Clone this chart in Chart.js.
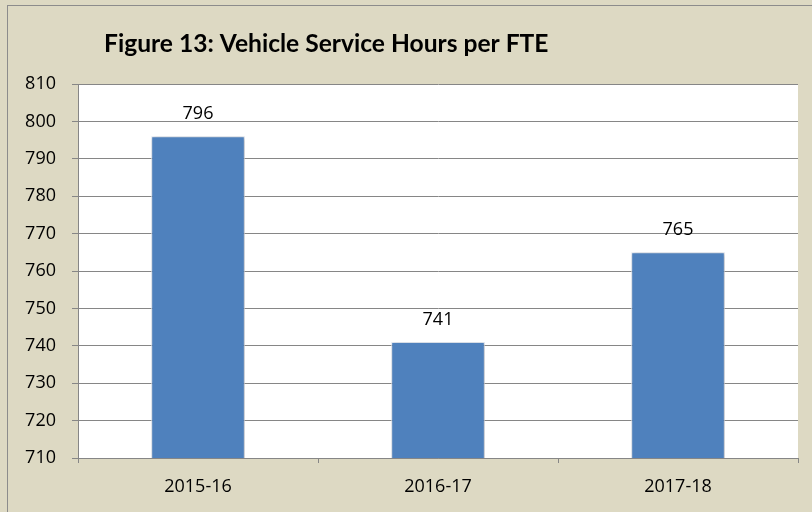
<!DOCTYPE html>
<html>
<head>
<meta charset="utf-8">
<script src="https://cdn.jsdelivr.net/npm/chart.js@4.4.1/dist/chart.umd.min.js"></script>
<style>
  html, body { margin: 0; padding: 0; background: #ddd9c3; }
  #wrap { width: 812px; height: 512px; }
</style>
</head>
<body>
<div id="wrap"><canvas id="hoursChart" width="812" height="512"></canvas></div>
<script>
const years = ['2015-16', '2016-17', '2017-18'];
const hoursPerFte = [796, 741, 765];
const yMin = 710;
const yMax = 810;
const yStep = 10;

const chartTitle = 'Figure 13: Vehicle Service Hours per FTE';
const fontFamily = "'Open Sans', Lato, sans-serif";
const titleFont = "Lato, 'Open Sans', sans-serif";

// beige frame, white plot area, title
const framePlugin = {
    id: 'frame',
    beforeDraw(chart) {
        const { ctx, chartArea } = chart;
        ctx.save();
        ctx.fillStyle = '#ddd9c3';
        ctx.fillRect(0, 0, chart.width, chart.height);
        ctx.strokeStyle = '#8c8c8c';
        ctx.lineWidth = 1;
        ctx.strokeRect(7.5, 5.5, chart.width + 20, chart.height + 20);
        ctx.fillStyle = '#ffffff';
        ctx.fillRect(chartArea.left, chartArea.top, chartArea.right - chartArea.left, chartArea.bottom - chartArea.top);
        ctx.fillStyle = '#000000';
        ctx.font = 'bold 24.6px ' + titleFont;
        ctx.textBaseline = 'middle';
        ctx.textAlign = 'left';
        ctx.fillText(chartTitle, 104, 44);
        ctx.restore();
    }
};

const barShadow = {
    id: 'barShadow',
    beforeDatasetDraw(chart) {
        const ctx = chart.ctx;
        ctx.save();
        ctx.shadowColor = 'rgba(0,0,0,0.28)';
        ctx.shadowBlur = 4;
        ctx.shadowOffsetX = 1;
        ctx.shadowOffsetY = 1;
    },
    afterDatasetDraw(chart) {
        chart.ctx.restore();
    }
};

const valueLabels = {
    id: 'valueLabels',
    afterDatasetsDraw(chart) {
        const { ctx } = chart;
        const meta = chart.getDatasetMeta(0);
        ctx.save();
        ctx.fillStyle = '#000000';
        ctx.font = '18px ' + fontFamily;
        ctx.textAlign = 'center';
        ctx.textBaseline = 'middle';
        meta.data.forEach((bar, i) => {
            ctx.fillText(String(hoursPerFte[i]), bar.x, bar.y - 22);
        });
        ctx.restore();
    }
};

new Chart(document.getElementById('hoursChart').getContext('2d'), {
    type: 'bar',
    data: {
        labels: years,
        datasets: [{
            data: hoursPerFte,
            backgroundColor: '#4f81bd',
            borderColor: '#e8eef7',
            borderWidth: 1,
            barPercentage: 0.39,
            categoryPercentage: 1.0
        }]
    },
    options: {
        responsive: false,
        animation: false,
        layout: { padding: { top: 84, right: 14, left: 0, bottom: 0 } },
        plugins: {
            legend: { display: false },
            tooltip: { enabled: false }
        },
        scales: {
            x: {
                grid: { drawOnChartArea: false, offset: true, tickLength: 5, color: '#868686' },
                border: { color: '#868686' },
                ticks: { color: '#000000', font: { family: fontFamily, size: 18 }, padding: 13 },
                afterFit(scale) { scale.height = 512 - 458; }
            },
            y: {
                min: yMin,
                max: yMax,
                ticks: { stepSize: yStep, color: '#000000', font: { family: fontFamily, size: 18 }, padding: 16 },
                grid: { color: '#868686', tickLength: 6 },
                border: { color: '#868686' },
                afterFit(scale) { scale.width = 78; }
            }
        }
    },
    plugins: [framePlugin, barShadow, valueLabels]
});
</script>
</body>
</html>
